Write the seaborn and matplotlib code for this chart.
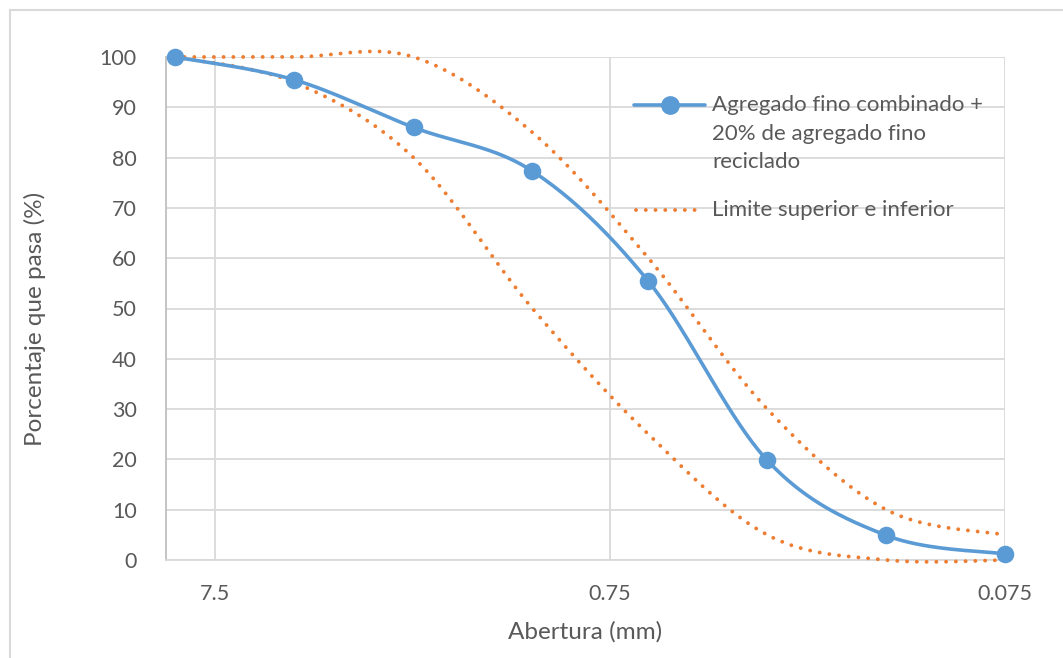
import numpy as np
import pandas as pd
import matplotlib
matplotlib.use("Agg")
import matplotlib.pyplot as plt
from matplotlib.lines import Line2D
from matplotlib.patches import Rectangle
import seaborn as sns

# ---- data ----
aberturas = [9.5, 4.75, 2.36, 1.18, 0.6, 0.3, 0.15, 0.075]
pasa_combinado = [100, 95.5, 86.0, 77.3, 55.4, 19.8, 4.9, 1.2]
limite_superior = [100, 100, 100, 85, 60, 30, 10, 5]
limite_inferior = [100, 95, 80, 50, 25, 5, 0, 0]
x_ticks = [7.5, 0.75, 0.075]
x_tick_labels = ["7.5", "0.75", "0.075"]
y_ticks = list(range(0, 101, 10))
serie_1 = ["Agregado fino combinado +", "20% de agregado fino", "reciclado"]
serie_2 = "Limite superior e inferior"

BLUE = "#5B9BD5"
ORANGE = "#ED7D31"
TXT = "#595959"
GRID = "#D9D9D9"


def smooth(xs, ys, n=40):
    """Excel-like Bezier smoothing in (log10 x, y) space."""
    u = np.log10(np.asarray(xs, float))
    v = np.asarray(ys, float)
    P = np.column_stack([u, v])
    out = []
    t = np.linspace(0, 1, n)[:, None]
    for i in range(len(P) - 1):
        p0 = P[i - 1] if i > 0 else P[i]
        p1, p2 = P[i], P[i + 1]
        p3 = P[i + 2] if i + 2 < len(P) else P[i + 1]
        c1 = p1 + (p2 - p0) / 6
        c2 = p2 - (p3 - p1) / 6
        seg = ((1 - t) ** 3) * p1 + 3 * ((1 - t) ** 2) * t * c1 + 3 * (1 - t) * t ** 2 * c2 + t ** 3 * p2
        out.append(seg if i == 0 else seg[1:])
    S = np.vstack(out)
    return pd.DataFrame({"x": 10 ** S[:, 0], "y": S[:, 1]})


sns.set_theme(style="white")
plt.rcParams["font.family"] = ["Lato", "DejaVu Sans"]

W, H = 1063, 658
fig = plt.figure(figsize=(W / 100, H / 100), dpi=100)
ax = fig.add_axes([166 / W, 1 - 560 / H, (1005 - 166) / W, (560 - 57) / H])

ax.set_xscale("log")
ax.set_xlim(10, 0.075)
ax.set_ylim(0, 100)

df_up = smooth(aberturas, limite_superior)
df_lo = smooth(aberturas, limite_inferior)
df_c = smooth(aberturas, pasa_combinado)

LW_DOT = 2.8
DASH = (0.01, 2.5)
sns.lineplot(data=df_up, x="x", y="y", sort=False, estimator=None, ax=ax, color=ORANGE, lw=LW_DOT, zorder=3)
sns.lineplot(data=df_lo, x="x", y="y", sort=False, estimator=None, ax=ax, color=ORANGE, lw=LW_DOT, zorder=3)
for ln in ax.lines:
    ln.set_dashes(DASH)
    ln.set_dash_capstyle("round")
sns.lineplot(data=df_c, x="x", y="y", sort=False, estimator=None, ax=ax, color=BLUE, lw=2.6, zorder=4)
sns.scatterplot(x=aberturas, y=pasa_combinado, ax=ax, color=BLUE, s=160, edgecolor=BLUE, linewidth=0, zorder=5)
for art in ax.lines + ax.collections:
    art.set_clip_on(False)

ax.set_xticks(x_ticks)
ax.set_xticklabels(x_tick_labels)
ax.xaxis.set_minor_locator(matplotlib.ticker.NullLocator())
ax.set_yticks(y_ticks)
ax.tick_params(axis="both", colors=TXT, labelsize=15.5, length=0)
ax.tick_params(axis="y", pad=21)
ax.tick_params(axis="x", pad=17)
for lab in ax.get_xticklabels() + ax.get_yticklabels():
    lab.set_color(TXT)

ax.grid(True, axis="both", color=GRID, lw=1.3)
for s in ["top", "right"]:
    ax.spines[s].set_visible(False)
ax.spines["left"].set_color("#BFBFBF")
ax.spines["left"].set_linewidth(1.3)
ax.spines["bottom"].set_color(GRID)
ax.spines["bottom"].set_linewidth(1.3)

ax.set_xlabel("")
ax.set_ylabel("")
fig.text(585 / W, 1 - 632 / H, "Abertura (mm)", ha="center", va="center", fontsize=17.5, color=TXT)
fig.text(35 / W, 1 - 319 / H, "Porcentaje que pasa (%)", ha="center", va="center",
         rotation=90, fontsize=17.5, color=TXT)

# legend (manual, Excel-like)
ly = [105, 133.5, 162]
fig.add_artist(Line2D([634 / W, 705 / W], [1 - ly[0] / H] * 2, color=BLUE, lw=2.6, transform=fig.transFigure))
fig.add_artist(Line2D([669.5 / W], [1 - ly[0] / H], marker="o", ms=12.5, color=BLUE, transform=fig.transFigure))
for yy, txt in zip(ly, serie_1):
    fig.text(712 / W, 1 - yy / H, txt, ha="left", va="center", fontsize=16, color=TXT)
fig.add_artist(Line2D([636 / W, 704 / W], [1 - 210 / H] * 2, color=ORANGE, lw=LW_DOT, dashes=DASH,
                      dash_capstyle="round", transform=fig.transFigure))
fig.text(712 / W, 1 - 210 / H, serie_2, ha="left", va="center", fontsize=16, color=TXT)

# chart border
fig.add_artist(Rectangle((10 / W, -0.1), 1.2, 1 - 10 / H + 0.1, transform=fig.transFigure,
                         fill=False, edgecolor=GRID, lw=1.5))

fig.savefig("out.png", dpi=100)
